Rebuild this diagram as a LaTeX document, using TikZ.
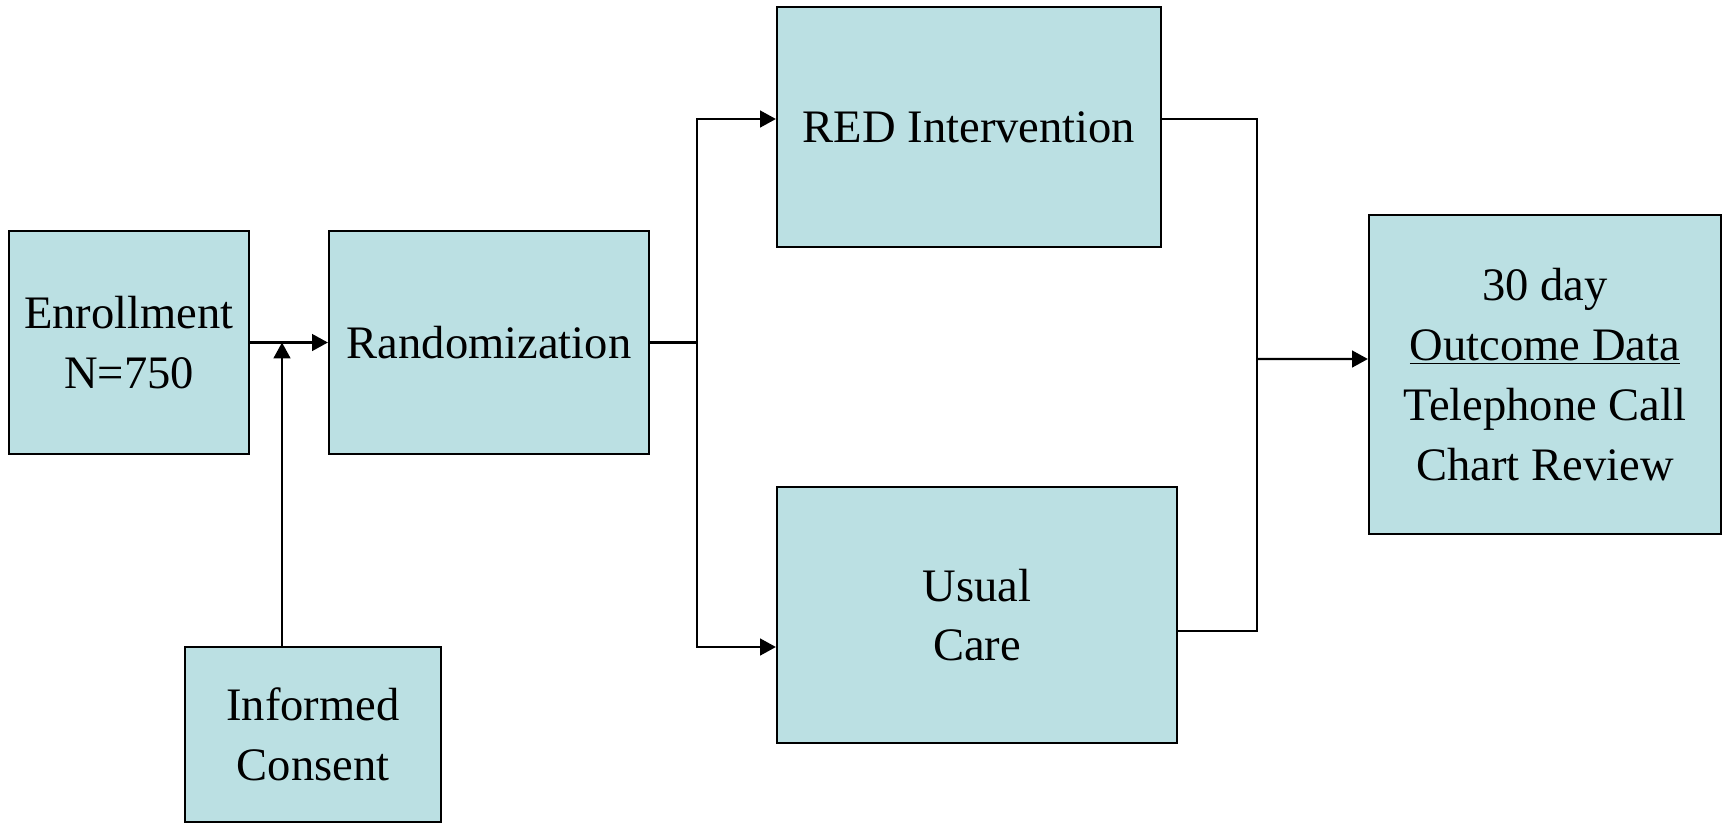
\documentclass[tikz,border=0pt]{standalone}
\usepackage{fontspec}
\setmainfont{Liberation Serif}
\usetikzlibrary{arrows.meta}
\definecolor{boxblue}{RGB}{187,224,227}
\begin{document}
\begin{tikzpicture}[x=0.02cm,y=-0.02cm,
            box/.style={draw,line width=1.3pt,fill=boxblue,
                align=center,inner sep=0pt,
                font=\fontsize{26.5}{34}\selectfont},
            link/.style={line width=1.3pt},
            arr/.style={link,-{Triangle[width=9.5pt,length=9pt]}}]
            \useasboundingbox (0,0) rectangle (1725,823);
            % boxes
            \node[box,minimum width=4.8cm,minimum height=4.46cm]
                (enroll) at (129,342.5) {Enrollment\\N=750};
            \node[box,minimum width=6.4cm,minimum height=4.46cm]
                (rand) at (489,342.5) {Randomization};
            \node[box,minimum width=5.12cm,minimum height=3.5cm]
                (consent) at (313,734.5) {Informed\\Consent};
            \node[box,minimum width=7.68cm,minimum height=4.8cm]
                (red) at (969,127) {RED Intervention};
            \node[box,minimum width=8cm,minimum height=5.12cm]
                (usual) at (977,615) {Usual\\Care};
            \node[box,minimum width=7.04cm,minimum height=6.38cm]
                (outcome) at (1545,374.5)
                {30 day\\\underline{Outcome Data}\\Telephone Call\\Chart Review};
            % connectors
            \coordinate (join) at (282,342.5);
            \coordinate (split) at (697,342.5);
            \coordinate (merge) at (1257,359);
            \draw[arr] (enroll) -- (rand);
            \draw[arr] (consent.north -| join) -- (join);
            \draw[link] (rand.east) -- (split);
            \draw[arr] (split) |- ([yshift=0.16cm]red.west);
            \draw[arr] (split) |- ([yshift=-0.64cm]usual.west);
            \draw[link] ([yshift=0.16cm]red.east) -| (merge)
                |- ([yshift=-0.32cm]usual.east);
            \draw[arr] (merge) -- ([yshift=0.31cm]outcome.west);
\end{tikzpicture}
\end{document}
